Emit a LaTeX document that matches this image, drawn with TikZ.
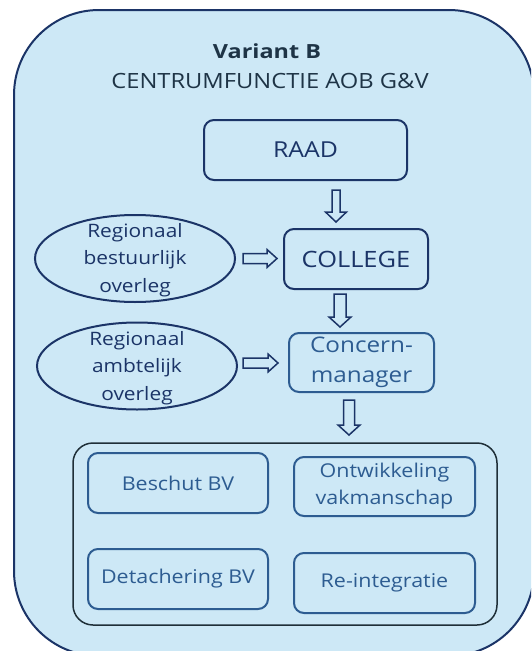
\documentclass[tikz,border=0pt]{standalone}
\usepackage{fontspec}
\setmainfont{Open Sans}[Ligatures=NoCommon, FakeStretch=1.13]
\newfontfamily\headfont{Open Sans}[Ligatures=NoCommon, FakeStretch=1.2]
\usetikzlibrary{calc,shapes.geometric}

\definecolor{panel}{HTML}{CDE8F6}
\definecolor{navy}{HTML}{1B3467}
\definecolor{slate}{HTML}{1E3446}
\definecolor{steel}{HTML}{2D5C91}
\definecolor{frame}{HTML}{1F2F38}

\tikzset{
  blk shaft/.store in=\blkshaft, blk head/.store in=\blkhead, blk tip/.store in=\blktip,
  blk shaft=4pt, blk head=10pt, blk tip=10pt,
  blockline/.style={draw=navy, line width=1.5pt, fill=panel, line join=miter},
  downblock/.style={blockline, to path={let \p1=(\tikztostart), \p2=(\tikztotarget) in
    (\x1-\blkshaft,\y1) -- (\x1+\blkshaft,\y1) -- (\x1+\blkshaft,\y2+\blktip)
    -- (\x1+\blkhead,\y2+\blktip) -- (\x1,\y2) -- (\x1-\blkhead,\y2+\blktip)
    -- (\x1-\blkshaft,\y2+\blktip) -- cycle}},
  rightblock/.style={blockline, to path={let \p1=(\tikztostart), \p2=(\tikztotarget) in
    (\x1,\y1+\blkshaft) -- (\x2-\blktip,\y1+\blkshaft) -- (\x2-\blktip,\y1+\blkhead)
    -- (\x2,\y1) -- (\x2-\blktip,\y1-\blkhead) -- (\x2-\blktip,\y1-\blkshaft)
    -- (\x1,\y1-\blkshaft) -- cycle}},
  topbox/.style={draw=navy, line width=2pt, rounded corners=10pt, text=navy},
  unitbox/.style={draw=steel, line width=2pt, rounded corners=10pt, text=steel,
    minimum width=180pt, minimum height=60pt, align=center,
    font=\fontsize{19}{27}\selectfont},
  overleg/.style={ellipse, draw=navy, line width=2pt, minimum width=200pt,
    minimum height=87pt, inner sep=0pt},
  overlegtext/.style={text=navy, align=center, font=\fontsize{18.5}{27.5}\selectfont},
}

\begin{document}
\begin{tikzpicture}[x=1pt,y=-1pt]
\useasboundingbox (0,0) rectangle (531,651);
\clip (0,0) rectangle (531,651);

% outer panel
\draw[navy, line width=2pt, fill=panel, rounded corners=85pt] (14,10) rectangle (534,656);

% heading
\node[anchor=base, text=slate, font=\headfont\bfseries\fontsize{19.5}{24}\selectfont] (title) at (267,58) {Variant B};
\node[anchor=base, text=slate, font=\fontsize{21}{25}\selectfont] (subtitle) at (270,88) {CENTRUMFUNCTIE AOB G\&V};

% governance chain
\node[topbox, minimum width=203pt, minimum height=60pt, font=\fontsize{22}{26}\selectfont] (raad) at (305.5,150) {RAAD};
\node[topbox, minimum width=144pt, minimum height=60pt, font=\fontsize{22.5}{26}\selectfont] (college) at (356,259) {COLLEGE};
\node[draw=steel, line width=2pt, rounded corners=10pt, text=steel, align=center,
      minimum width=145pt, minimum height=59pt, inner sep=0pt,
      font=\fontsize{21.5}{30}\selectfont] (concern) at (361.5,362.5) {Concern-\\manager};

% regional consultations
\node[overleg] (rbo) at (135,258.5) {};
\node[overlegtext] (rbotext) at (135,260) {Regionaal\\bestuurlijk\\overleg};
\node[overleg] (rao) at (137,366) {};
\node[overlegtext] (raotext) at (137,368) {Regionaal\\ambtelijk\\overleg};

% units
\draw[frame, line width=1.5pt, rounded corners=20pt] (73,443) rectangle (497,625);
\node[unitbox] (beschut) at (178,483) {Beschut BV};
\node[unitbox, minimum width=181pt, minimum height=59pt] (ontw) at (384.5,486.5) {Ontwikkeling\\vakmanschap};
\node[unitbox] (detach) at (178,579) {Detachering BV};
\node[unitbox, minimum width=181pt] (reint) at (384.5,583) {Re-integratie};

% arrow end points
\coordinate (a1s) at (336,190);  \coordinate (a1e) at (336,222);
\coordinate (a2s) at (340,294);  \coordinate (a2e) at (340,327);
\coordinate (a3s) at (349,400);  \coordinate (a3e) at (349,435);
\coordinate (h1s) at (243,258.5);\coordinate (h1e) at (277,258.5);
\coordinate (h2s) at (243,363);  \coordinate (h2e) at (278,363);

% block arrows
\draw[downblock, blk shaft=4pt, blk head=10.5pt, blk tip=10pt] (a1s) to (a1e);
\draw[downblock, blk shaft=6pt, blk head=11pt, blk tip=10pt] (a2s) to (a2e);
\draw[downblock, blk shaft=5.5pt, blk head=11pt, blk tip=10pt] (a3s) to (a3e);
\draw[rightblock, blk shaft=5pt, blk head=9pt, blk tip=10pt] (h1s) to (h1e);
\draw[rightblock, blk shaft=5pt, blk head=9pt, blk tip=10pt] (h2s) to (h2e);
\end{tikzpicture}
\end{document}
